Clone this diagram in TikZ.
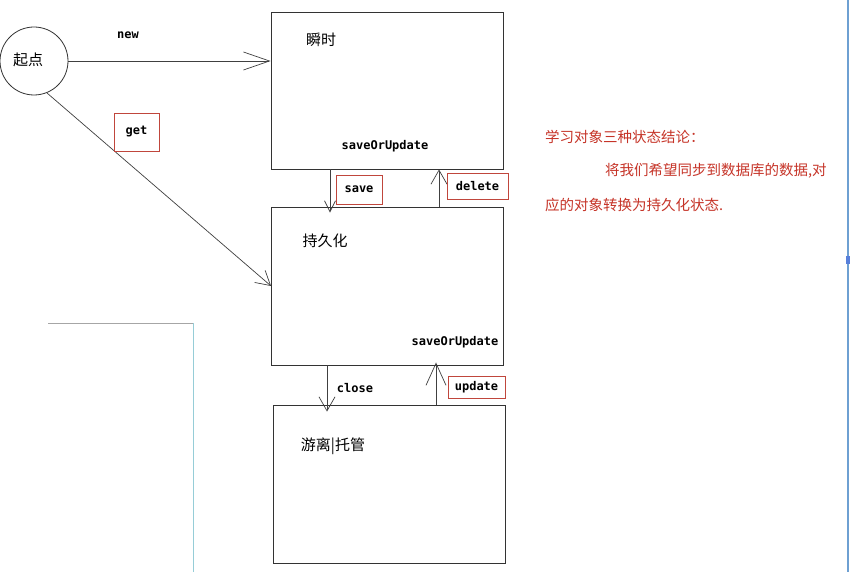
\documentclass[tikz,border=0pt]{standalone}
\usepackage{fontspec}
\setmonofont{DejaVu Sans Mono}
\newfontfamily\cjk{Noto Sans CJK SC}
\usetikzlibrary{arrows.meta}
\definecolor{tagred}{RGB}{192,70,60}
\definecolor{notered}{RGB}{198,52,40}
\definecolor{edgeblue}{RGB}{110,160,210}
\definecolor{paleline}{RGB}{150,205,215}

\begin{document}
\begin{tikzpicture}[x=1pt,y=-1pt,
  state/.style={draw=black!80,line width=0.9pt,minimum width=232pt,minimum height=157pt,inner sep=0pt},
  lbl/.style={font=\ttfamily\bfseries\fontsize{12}{14}\selectfont,inner sep=1pt},
  tag/.style={lbl,draw=tagred,line width=0.7pt},
  cn/.style={font=\cjk\fontsize{15}{18}\selectfont,inner sep=0pt},
  note/.style={font=\cjk\fontsize{14.5}{17}\selectfont,text=notered,anchor=west,inner sep=0pt},
  arr/.style={draw=black!75,line width=0.7pt,-{Straight Barb[length=14pt,width=16pt]}},
  ]
  \useasboundingbox[fill=white] (0,0) rectangle (850,572);
  % faint screen edges
  \draw[black!35] (48,323) -- (193,323);
  \draw[paleline] (193,323) -- (193,572);
  \draw[edgeblue,line width=1.5pt] (848,0) -- (848,572);
  \fill[edgeblue!80!blue] (846,256) rectangle (850,264);

  \node[circle,draw=black!80,line width=0.8pt,minimum size=68pt,inner sep=0pt] (start) at (34,61) {};
  \node[cn] at (28,60) {起点};

  \node[state] (b1) at (387,90.5) {};
  \node[state,minimum height=158pt] (b2) at (387.5,286) {};
  \node[state,minimum height=158pt] (b3) at (389,484) {};
  \node[cn] at (321,40) {瞬时};
  \node[cn] at (325,241) {持久化};
  \node[cn] at (333,446) {游离|托管};
  \node[lbl] at (385,146) {saveOrUpdate};
  \node[lbl] at (455,342) {saveOrUpdate};

  \coordinate (xsave) at (330,0);
  \coordinate (xdel) at (439,0);
  \coordinate (xclose) at (327,0);
  \coordinate (xupd) at (436,0);

  \draw[arr,-{Straight Barb[length=26pt,width=18pt]}] (start.east) -- (start.east -| b1.west);
  \node[lbl] at (128,35) {new};
  \draw[arr] (start.-68) -- (b2.west);
  \node[tag,minimum width=45pt,minimum height=38pt] at (136.5,132) {get};

  \draw[arr,shorten >=-6pt,-{Straight Barb[length=11pt,width=11pt]}] (b1.south -| xsave) -- (b2.north -| xsave);
  \node[tag,minimum width=46pt,minimum height=29pt] at (359,189.5) {save};
  \draw[arr] (b2.north -| xdel) -- (b1.south -| xdel);
  \node[tag,minimum width=61pt,minimum height=26pt] at (477.5,186) {delete};

  \draw[arr,shorten >=-7pt] (b2.south -| xclose) -- (b3.north -| xclose);
  \node[lbl] at (355,388) {close};
  \draw[arr,shorten >=-3pt,-{Straight Barb[length=22pt,width=20pt]}] (b3.north -| xupd) -- (b2.south -| xupd);
  \node[tag,minimum width=57pt,minimum height=22pt] at (476.5,387) {update};

  \node[note] (n1) at (545,137) {学习对象三种状态结论：};
  \node[note] (n2) at (605,171) {将我们希望同步到数据库的数据,对};
  \node[note] (n3) at (545,205) {应的对象转换为持久化状态.};
\end{tikzpicture}
\end{document}
